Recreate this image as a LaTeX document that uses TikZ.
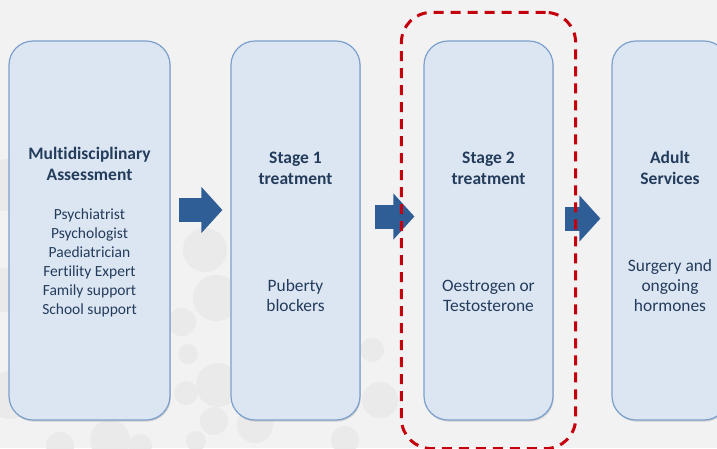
\documentclass[tikz,border=0pt]{standalone}
\usepackage{fontspec}
\setmainfont{Carlito}[Ligatures=NoCommon]
\usetikzlibrary{arrows.meta,fit,shadows}

\definecolor{slidebg}{RGB}{242,242,242}
\definecolor{dotgrey}{RGB}{234,234,234}
\definecolor{boxfill}{RGB}{220,230,242}
\definecolor{boxline}{RGB}{124,160,205}
\definecolor{textblue}{RGB}{36,60,92}
\definecolor{arrowblue}{RGB}{47,93,149}
\definecolor{focusred}{RGB}{196,0,12}

\tikzset{
  stagebox/.style={draw=boxline, line width=1.2pt, fill=boxfill, rounded corners=24pt,
    minimum height=379pt, drop shadow={shadow xshift=0.8pt, shadow yshift=-1.6pt, opacity=0.3}},
  head/.style={align=center, text=textblue, font=\bfseries\fontsize{17.5}{21}\selectfont},
  body/.style={align=center, text=textblue, font=\fontsize{17.4}{20}\selectfont},
  list/.style={align=center, text=textblue, font=\fontsize{15.5}{19}\selectfont},
  flow/.style={draw=arrowblue, line width=24pt, -{Triangle[length=21pt,width=45pt]}},
  focus/.style={draw=focusred, line width=3pt, dash pattern=on 10pt off 7pt, rounded corners=30pt}
}

\begin{document}
\begin{tikzpicture}[x=1pt,y=-1pt]
  \useasboundingbox (0,0) rectangle (717,448);
  \clip (0,0) rectangle (717,448);
  \fill[slidebg] (0,0) rectangle (717,448);
  % faint dots in the background
  \foreach \cx/\cy/\r in {8/185/26, 6/290/22, 10/395/24, 205/250/22, 216/298/23, 182/322/14,
      188/354/10, 218/385/22, 186/393/12, 214/421/14, 196/441/10, 110/440/20, 140/446/12,
      255/425/18, 372/350/12, 380/400/18, 345/440/14, 60/446/14}
    \fill[dotgrey] (\cx,\cy) circle (\r);

  \node[stagebox, minimum width=161pt] (assess) at (89.5,230.5) {};
  \node[stagebox, minimum width=129pt] (stage1) at (295.5,230.5) {};
  \node[stagebox, minimum width=129pt] (stage2) at (488.5,230.5) {};
  \node[stagebox, minimum width=116pt] (adult) at (670,230.5) {};

  \node[head] (assess-head) at (89.5,164) {Multidisciplinary\\Assessment};
  \node[list] (assess-body) at (89.5,263) {Psychiatrist\\Psychologist\\Paediatrician\\Fertility Expert\\Family support\\School support};
  \node[head] (stage1-head) at (295.5,168) {Stage 1\\treatment};
  \node[body] (stage1-body) at (295.5,296) {Puberty\\blockers};
  \node[head] (stage2-head) at (488.5,168) {Stage 2\\treatment};
  \node[body] (stage2-body) at (488.5,296) {Oestrogen or\\Testosterone};
  \node[head] (adult-head) at (670,168) {Adult\\Services};
  \node[body] (adult-body) at (670,286) {Surgery and\\ongoing\\hormones};

  \draw[flow] ([xshift=8pt,yshift=20.5pt]assess.east) -- ([xshift=-8pt,yshift=20.5pt]stage1.west);
  \draw[flow] ([xshift=14pt,yshift=14pt]stage1.east) -- ([xshift=-9pt,yshift=14pt]stage2.west);
  \draw[flow] ([xshift=11pt,yshift=12pt]stage2.east) -- ([xshift=-11pt,yshift=12pt]adult.west);

  \node[focus, fit=(stage2), inner xsep=22pt, inner ysep=28pt] (focus) {};
\end{tikzpicture}
\end{document}
